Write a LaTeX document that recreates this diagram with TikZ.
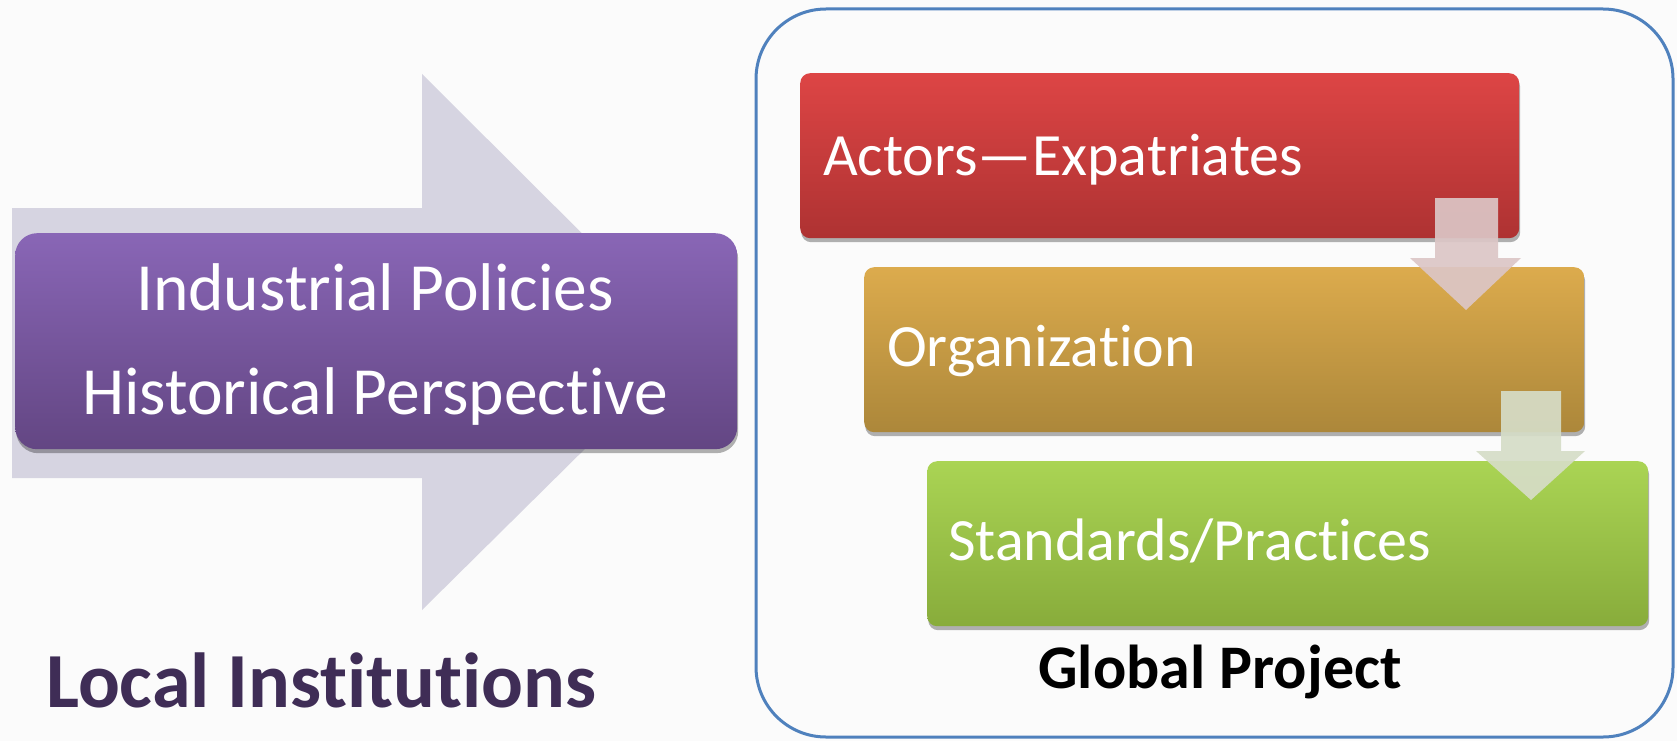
\documentclass[tikz,border=0pt]{standalone}
\usepackage{fontspec}
\setmainfont{Carlito}[Ligatures=NoCommon]
\usetikzlibrary{shadows}
\definecolor{bgc}{HTML}{FBFBFB}
\definecolor{bigarrow}{HTML}{D6D4E1}
\definecolor{purpT}{HTML}{8966B6}
\definecolor{purpB}{HTML}{634683}
\definecolor{redT}{HTML}{DD4545}
\definecolor{redB}{HTML}{AE3232}
\definecolor{orT}{HTML}{DCAB4D}
\definecolor{orB}{HTML}{AC873A}
\definecolor{grT}{HTML}{AAD454}
\definecolor{grB}{HTML}{88AC3B}
\definecolor{frame}{HTML}{4F81BD}
\definecolor{localc}{HTML}{3F2D56}
\definecolor{darrowA}{HTML}{DCC6C6}
\definecolor{darrowB}{HTML}{D6DDC7}
\tikzset{
  stepbox/.style={rectangle, rounded corners=10pt, inner sep=0pt, anchor=north west,
    drop shadow={shadow xshift=1pt, shadow yshift=-4pt, opacity=0.3, fill=black}},
  boxtext/.style={anchor=base west, inner sep=0pt, text=white, font=\fontsize{60}{64}\selectfont},
}
\begin{document}
\begin{tikzpicture}[x=1pt,y=-1pt]
\useasboundingbox (0,0) rectangle (1677,741);
\fill[bgc] (0,0) rectangle (1677,741);

% big background arrow
\fill[bigarrow] (12,208) -- (422,208) -- (422,74) -- (692,343) -- (422,610) -- (422,478) -- (12,478) -- cycle;

% purple box
\node[stepbox, rounded corners=22pt, minimum width=722pt, minimum height=216pt,
  top color=purpT, bottom color=purpB] (purple) at (15,233) {};
\node[anchor=base, inner sep=0pt, text=white, font=\fontsize{67.5}{70}\selectfont] (ip) at (375,310) {Industrial Policies};
\node[anchor=base, inner sep=0pt, text=white, font=\fontsize{67.5}{70}\selectfont] (hp) at (375,414) {Historical Perspective};

% local institutions label
\node[anchor=base west, inner sep=0pt, text=localc, font=\bfseries\fontsize{78}{82}\selectfont] (local) at (46,707) {Local Institutions};

% global frame
\draw[frame, line width=3pt, rounded corners=70pt] (756,9) rectangle (1673,737);
\node[anchor=base, inner sep=0pt, text=black, font=\bfseries\fontsize{62}{66}\selectfont] (global) at (1220,688) {Global Project};

% step boxes
\node[stepbox, minimum width=719pt, minimum height=165pt, top color=redT, bottom color=redB] (red) at (800,73) {};
\node[boxtext] (actors) at (823,175) {Actors—Expatriates};

\node[stepbox, minimum width=720pt, minimum height=165pt, top color=orT, bottom color=orB] (orange) at (864,267) {};
\node[boxtext] (org) at (887,366) {Organization};

\node[stepbox, minimum width=721pt, minimum height=165pt, top color=grT, bottom color=grB] (green) at (927,461) {};
\node[boxtext] (std) at (948,560) {Standards/Practices};

% down arrows
\fill[darrowA, opacity=0.92] (1435,198) -- (1498,198) -- (1498,258) -- (1521,258) -- (1466,310) -- (1410,258) -- (1435,258) -- cycle;
\fill[darrowB, opacity=0.92] (1501,391) -- (1561,391) -- (1561,451) -- (1585,451) -- (1531,500) -- (1476,451) -- (1501,451) -- cycle;
\end{tikzpicture}
\end{document}
